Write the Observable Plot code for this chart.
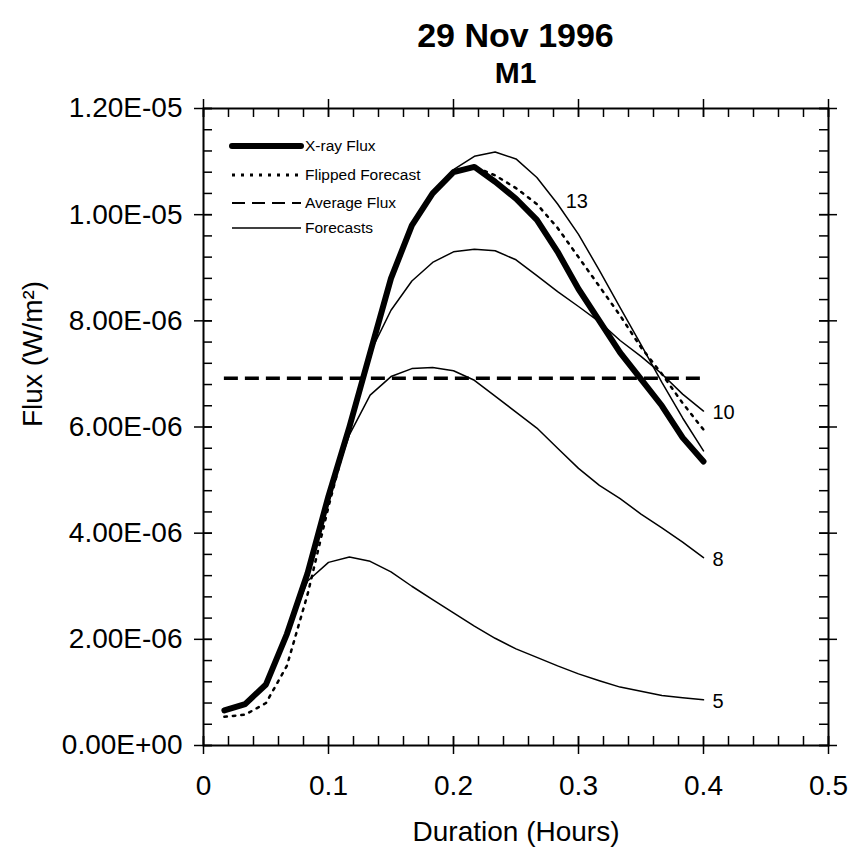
<!DOCTYPE html>
<html>
<head>
<meta charset="utf-8">
<script src="https://cdn.jsdelivr.net/npm/d3@7"></script>
<script src="https://cdn.jsdelivr.net/npm/@observablehq/plot@0.6"></script>
<style>
  html, body { margin: 0; padding: 0; background: #fff; }
  #wrap { position: relative; width: 851px; height: 857px; font-family: "Liberation Sans", Arial, sans-serif; color: #000; }
  #title { position: relative; width: 851px; height: 100px; }
  #title div { position: absolute; left: 203px; width: 625px; text-align: center; font-weight: bold; line-height: 1; white-space: nowrap; }
  #t1 { top: 18px; font-size: 34px; }
  #t2 { top: 58px; font-size: 30px; }
  #legend { position: absolute; left: 0; top: 0; pointer-events: none; }
</style>
</head>
<body>
<div id="wrap">
  <div id="title"><div id="t1"></div><div id="t2"></div></div>
  <div id="chart"></div>
</div>
<script>
// ---------------- data (flux values in units of 1e-6 W/m^2) ----------------
const titleText = "29 Nov 1996";
const subtitleText = "M1";
const xLabel = "Duration (Hours)";
const yLabel = "Flux (W/m²)";

const duration = [0.0167, 0.0333, 0.05, 0.0667, 0.0833, 0.1, 0.1167, 0.1333, 0.15, 0.1667, 0.1833, 0.2,
                  0.2167, 0.2333, 0.25, 0.2667, 0.2833, 0.3, 0.3167, 0.3333, 0.35, 0.3667, 0.3833, 0.4];

const xrayFlux = [0.66, 0.78, 1.15, 2.1, 3.25, 4.7, 6.0, 7.4, 8.8, 9.8, 10.4, 10.8,
                  10.9, 10.62, 10.3, 9.9, 9.3, 8.6, 8.0, 7.4, 6.9, 6.4, 5.8, 5.35];

const flippedForecast = [0.54, 0.58, 0.8, 1.5, 2.85, 4.5, 6.0, 7.4, 8.8, 9.8, 10.4, 10.8,
                         10.9, 10.74, 10.5, 10.2, 9.75, 9.2, 8.65, 8.1, 7.5, 7.0, 6.45, 5.95];

const averageFlux = 6.92;

const forecast5 = [0.66, 0.78, 1.15, 2.1, 3.1, 3.45, 3.55, 3.47, 3.27, 3.0, 2.75, 2.5,
                   2.25, 2.02, 1.82, 1.66, 1.5, 1.35, 1.22, 1.1, 1.02, 0.94, 0.9, 0.86];
const forecast8 = [0.66, 0.78, 1.15, 2.1, 3.25, 4.7, 5.85, 6.6, 6.95, 7.1, 7.12, 7.06,
                   6.88, 6.58, 6.28, 5.98, 5.6, 5.22, 4.9, 4.65, 4.36, 4.1, 3.83, 3.54];
const forecast10 = [0.66, 0.78, 1.15, 2.1, 3.25, 4.7, 6.0, 7.4, 8.2, 8.75, 9.1, 9.3,
                    9.35, 9.32, 9.15, 8.85, 8.55, 8.27, 7.98, 7.63, 7.33, 7.0, 6.62, 6.30];
const forecast13 = [0.66, 0.78, 1.15, 2.1, 3.25, 4.7, 6.0, 7.4, 8.8, 9.8, 10.4, 10.85,
                    11.1, 11.18, 11.05, 10.7, 10.2, 9.63, 8.95, 8.25, 7.55, 6.84, 6.17, 5.55];

const forecastNames = ["5", "8", "10", "13"];
const legendLabels = ["X-ray Flux", "Flipped Forecast", "Average Flux", "Forecasts"];

const xTicks = [0, 0.1, 0.2, 0.3, 0.4, 0.5];
const xTickLabels = ["0", "0.1", "0.2", "0.3", "0.4", "0.5"];
const yTickValues = [0, 2, 4, 6, 8, 10, 12];
const yTickLabels = ["0.00E+00", "2.00E-06", "4.00E-06", "6.00E-06", "8.00E-06", "1.00E-05", "1.20E-05"];

// ---------------- build tables ----------------
const U = 1e-6;
const yTicks = yTickValues.map(v => v * U);
const toRows = (arr, name) => arr.map((v, i) => ({x: duration[i], y: v * U, series: name}));
const xrayRows = toRows(xrayFlux, "X-ray Flux");
const flippedRows = toRows(flippedForecast, "Flipped Forecast");
const forecastSeries = [forecast5, forecast8, forecast10, forecast13];
const forecastRows = forecastSeries.flatMap((arr, k) => toRows(arr, forecastNames[k]));
const last = duration.length - 1;
const endLabels = forecastSeries.slice(0, 3).map((arr, k) => ({x: duration[last], y: arr[last] * U, text: forecastNames[k]}));
const label13 = [{x: duration[16], y: forecast13[16] * U, text: forecastNames[3]}];

const xMinor = d3.range(0, 0.5 + 1e-9, 0.02);
const yMinor = d3.range(0, 1.2e-5 + 1e-12, 0.4e-6);

// ---------------- layout ----------------
const W = 851, H = 757, ML = 203, MR = 23, MT = 8, MB = 112;
const FW = W - ML - MR, FH = H - MT - MB, T = 9;

document.getElementById("t1").textContent = titleText;
document.getElementById("t2").textContent = subtitleText;

const chart = Plot.plot({
  width: W, height: H,
  marginLeft: ML, marginRight: MR, marginTop: MT, marginBottom: MB,
  x: {domain: [0, 0.5]},
  y: {domain: [0, 1.2e-5]},
  style: {fontFamily: "'Liberation Sans', Arial, sans-serif", fontSize: "28px", background: "white", color: "black", overflow: "visible"},
  marks: [
    // minor ticks (inside)
    Plot.tickY(yMinor, {y: d => d, insetRight: FW - T, stroke: "black", strokeWidth: 1.5}),
    Plot.tickY(yMinor, {y: d => d, insetLeft: FW - T, stroke: "black", strokeWidth: 1.5}),
    Plot.tickX(xMinor, {x: d => d, insetTop: FH - T, stroke: "black", strokeWidth: 1.5}),
    Plot.tickX(xMinor, {x: d => d, insetBottom: FH - T, stroke: "black", strokeWidth: 1.5}),
    // major ticks (crossing)
    Plot.tickY(yTicks, {y: d => d, insetLeft: -T, insetRight: FW - T, stroke: "black", strokeWidth: 1.5}),
    Plot.tickY(yTicks, {y: d => d, insetLeft: FW - T, insetRight: -T, stroke: "black", strokeWidth: 1.5}),
    Plot.tickX(xTicks, {x: d => d, insetTop: FH - T, insetBottom: -T, stroke: "black", strokeWidth: 1.5}),
    Plot.tickX(xTicks, {x: d => d, insetTop: -T, insetBottom: FH - T, stroke: "black", strokeWidth: 1.5}),
    Plot.frame({stroke: "black", strokeWidth: 2}),
    // tick labels
    Plot.axisY(yTicks, {tickSize: 0, tickPadding: 21, tickFormat: d => yTickLabels[yTicks.indexOf(d)], label: null, fontSize: 28}),
    Plot.axisX(xTicks, {tickSize: 0, tickPadding: 30, tickFormat: d => xTickLabels[xTicks.indexOf(d)], label: null, fontSize: 28}),
    // axis titles
    Plot.text([yLabel], {frameAnchor: "left", dx: -170, rotate: -90, fontSize: 28}),
    Plot.text([xLabel], {frameAnchor: "bottom", dy: 95, fontSize: 28}),
    // data
    Plot.line(xrayRows, {x: "x", y: "y", stroke: "black", strokeWidth: 6, strokeLinejoin: "round", strokeLinecap: "round"}),
    Plot.line(forecastRows, {x: "x", y: "y", z: "series", stroke: "black", strokeWidth: 1.5, strokeLinejoin: "round"}),
    Plot.line(flippedRows, {x: "x", y: "y", stroke: "black", strokeWidth: 2.5, strokeDasharray: "2.5,6"}),
    Plot.ruleY([averageFlux * U], {x1: duration[0], x2: duration[last], stroke: "black", strokeWidth: 3.5, strokeDasharray: "14,7"}),
    // forecast labels
    Plot.text(endLabels, {x: "x", y: "y", text: "text", textAnchor: "start", dx: 9, dy: 2, fontSize: 20}),
    Plot.text(label13, {x: "x", y: "y", text: "text", textAnchor: "start", dx: 8, dy: -2, fontSize: 20})
  ]
});
document.getElementById("chart").appendChild(chart);

// ---------------- legend (overlay inside plot area) ----------------
const legendStyles = [
  {width: 6, dash: null, cap: "round"},
  {width: 3, dash: "3,6", cap: "butt"},
  {width: 2, dash: "13,7", cap: "butt"},
  {width: 1.5, dash: null, cap: "butt"}
];
const legendRowY = [146, 175, 203, 228];
const ns = "http://www.w3.org/2000/svg";
const lg = document.createElementNS(ns, "svg");
lg.setAttribute("id", "legend");
lg.setAttribute("width", 851);
lg.setAttribute("height", 260);
legendLabels.forEach((lab, i) => {
  const st = legendStyles[i];
  const ln = document.createElementNS(ns, "line");
  ln.setAttribute("x1", 232); ln.setAttribute("x2", 301);
  ln.setAttribute("y1", legendRowY[i]); ln.setAttribute("y2", legendRowY[i]);
  ln.setAttribute("stroke", "black");
  ln.setAttribute("stroke-width", st.width);
  ln.setAttribute("stroke-linecap", st.cap);
  if (st.dash) ln.setAttribute("stroke-dasharray", st.dash);
  lg.appendChild(ln);
  const tx = document.createElementNS(ns, "text");
  tx.setAttribute("x", 305);
  tx.setAttribute("y", legendRowY[i]);
  tx.setAttribute("dy", "0.35em");
  tx.setAttribute("font-size", "15.5px");
  tx.setAttribute("font-family", "'Liberation Sans', Arial, sans-serif");
  tx.textContent = lab;
  lg.appendChild(tx);
});
document.getElementById("wrap").appendChild(lg);
</script>
</body>
</html>
